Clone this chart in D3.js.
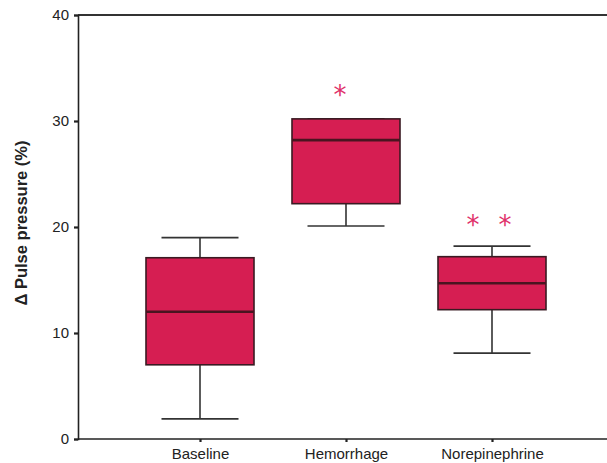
<!DOCTYPE html>
<html><head><meta charset="utf-8">
<script src="https://cdn.jsdelivr.net/npm/d3@7"></script>
<style>body{margin:0;background:#fff;}svg{display:block;font-family:"Liberation Sans",Arial,sans-serif;}</style>
</head><body><svg id="c" width="607" height="463"></svg>
<script>
const categories = ["Baseline", "Hemorrhage", "Norepinephrine"];
const whiskerLow = [1.9, 20.1, 8.1];
const q1 = [7.0, 22.2, 12.2];
const median = [12.0, 28.2, 14.7];
const q3 = [17.1, 30.2, 17.2];
const whiskerHigh = [19.0, 30.2, 18.2];
const yTicks = [0, 10, 20, 30, 40];
const starY = [32.7, 20.5];

const svg = d3.select("#c");
const y = d3.scaleLinear().domain([0, 40]).range([439, 15]);
const x = d3.scalePoint().domain(categories).range([200, 492]);
const boxW = 108, capW = 77;
const data = categories.map((c, i) => ({c, lo: whiskerLow[i], q1: q1[i], med: median[i], q3: q3[i], hi: whiskerHigh[i]}));

svg.append("line").attr("x1", 78).attr("x2", 607).attr("y1", y(40)).attr("y2", y(40)).attr("stroke", "#333").attr("stroke-width", 1.8);

const yAxis = svg.append("g").attr("transform", "translate(78,0)")
  .call(d3.axisLeft(y).tickValues(yTicks).tickSize(4).tickPadding(5));
yAxis.select(".domain").attr("stroke", "#222").attr("stroke-width", 1.6);
yAxis.selectAll(".tick line").attr("stroke", "#222").attr("stroke-width", 2.2);
yAxis.selectAll("text").attr("font-size", 15).attr("fill", "#222").attr("font-family", "Liberation Sans, Arial, sans-serif");

const xAxis = svg.append("g").attr("transform", `translate(0,${y(0)})`)
  .call(d3.axisBottom(x).tickSize(3).tickPadding(6));
xAxis.select(".domain").attr("d", `M78,0H607`).attr("stroke", "#222").attr("stroke-width", 1.6);
xAxis.selectAll(".tick line").attr("stroke", "#222").attr("stroke-width", 2.2);
xAxis.selectAll("text").attr("font-size", 15).attr("fill", "#222").attr("font-family", "Liberation Sans, Arial, sans-serif");

const g = svg.append("g");
const bx = g.selectAll("g.box").data(data).join("g");
bx.append("line").attr("x1", d => x(d.c)).attr("x2", d => x(d.c)).attr("y1", d => y(d.hi)).attr("y2", d => y(d.lo)).attr("stroke", "#333").attr("stroke-width", 1.6);
bx.append("line").attr("x1", d => x(d.c) - capW/2).attr("x2", d => x(d.c) + capW/2).attr("y1", d => y(d.hi)).attr("y2", d => y(d.hi)).attr("stroke", "#333").attr("stroke-width", 1.6);
bx.append("line").attr("x1", d => x(d.c) - capW/2).attr("x2", d => x(d.c) + capW/2).attr("y1", d => y(d.lo)).attr("y2", d => y(d.lo)).attr("stroke", "#333").attr("stroke-width", 1.6);
bx.append("rect").attr("x", d => x(d.c) - boxW/2).attr("width", boxW).attr("y", d => y(d.q3)).attr("height", d => y(d.q1) - y(d.q3))
  .attr("fill", "#d61e52").attr("stroke", "#3a1a22").attr("stroke-width", 1.6);
bx.append("line").attr("x1", d => x(d.c) - boxW/2).attr("x2", d => x(d.c) + boxW/2).attr("y1", d => y(d.med)).attr("y2", d => y(d.med)).attr("stroke", "#4a1420").attr("stroke-width", 2.6);

const stars = [
  {x: x("Hemorrhage") - 6, v: starY[0]},
  {x: x("Norepinephrine") - 19, v: starY[1]},
  {x: x("Norepinephrine") + 13, v: starY[1]}
];
svg.selectAll("text.star").data(stars).join("text").attr("class", "star")
  .attr("x", d => d.x).attr("y", d => y(d.v) + 12).attr("text-anchor", "middle")
  .attr("font-size", 26).attr("fill", "#e0306a").attr("font-family", "DejaVu Sans, sans-serif").text("*");

svg.append("text").attr("transform", `translate(27,${223}) rotate(-90)`).attr("text-anchor", "middle")
  .attr("font-size", 16.5).attr("font-weight", "bold").attr("fill", "#222").text("\u0394 Pulse pressure (%)");
</script></body></html>
